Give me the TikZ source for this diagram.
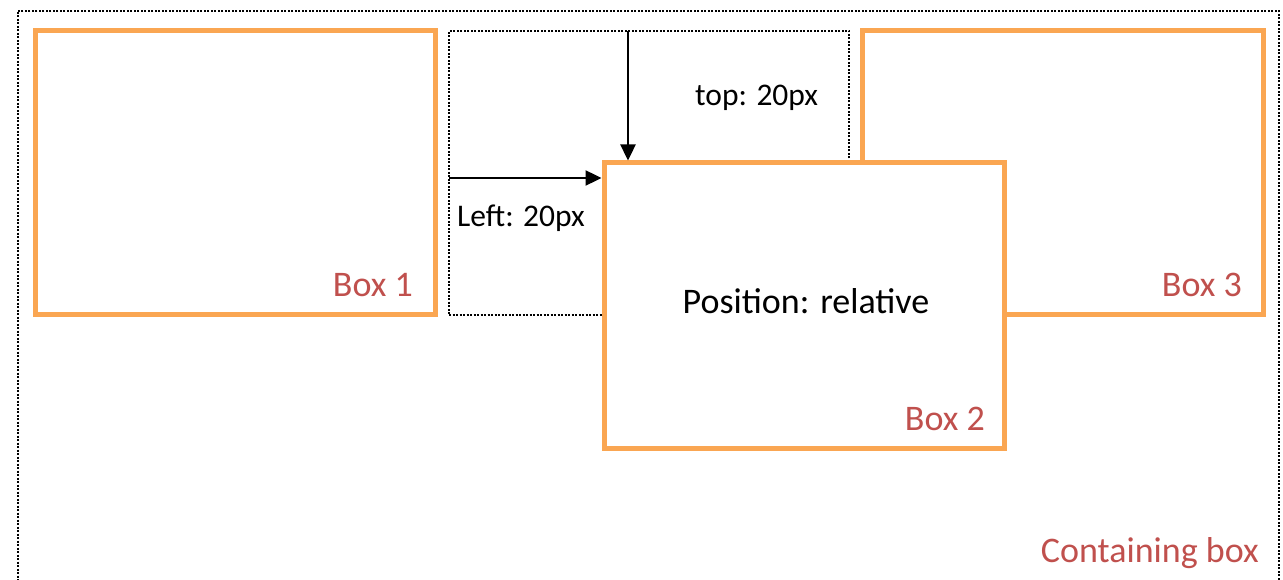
\documentclass[tikz,border=0pt]{standalone}
\usepackage{fontspec}
\setmainfont{Carlito}
\usetikzlibrary{arrows.meta}
\definecolor{boxorange}{RGB}{250,166,82}
\definecolor{labelred}{RGB}{192,80,77}
\begin{document}
\begin{tikzpicture}[x=1pt,y=-1pt,
  obox/.style={draw=boxorange,line width=5pt,fill=white,rectangle,inner sep=0pt,outer sep=0pt,
     minimum width=400pt,minimum height=283pt,anchor=north west},
  dotbox/.style={draw=black,line width=2pt,dash pattern=on 2pt off 1.5pt,rectangle,inner sep=0pt,outer sep=0pt,anchor=north west},
  lbl/.style={text=labelred,font=\fontsize{36}{40}\selectfont,inner sep=0pt,anchor=base east},
  blk/.style={text=black,inner sep=0pt},
  arr/.style={line width=2.4pt,shorten >=2.5pt,-{Triangle[length=16pt,width=15pt]}}
]
\useasboundingbox (0,0) rectangle (1283,580);
\clip (0,0) rectangle (1283,580);
\node[dotbox,minimum width=1261pt,minimum height=620pt] (container) at (17.5,11) {};
\node[dotbox,minimum width=400pt,minimum height=284pt] (ghost) at (449,31) {};
\node[obox] (box1) at (35,31) {};
\node[obox,minimum width=401pt] (box3) at (862,31) {};
\node[obox,minimum height=285pt] (box2) at (604,163) {};
\coordinate (lstart) at (449,178);
\coordinate (tstart) at (628,31);
\draw[arr] (lstart) -- (lstart -| box2.west);
\draw[arr] (tstart) -- (tstart |- box2.north);
\node[blk,font=\fontsize{31.5}{36}\selectfont,anchor=base west] (tlbl) at (695,106) {top: 20px};
\node[blk,font=\fontsize{31.5}{36}\selectfont,anchor=base west] (llbl) at (457,227) {Left: 20px};
\node[blk,font=\fontsize{36}{40}\selectfont,anchor=base] (plbl) at (806,313) {Position: relative};
\node[lbl] (b1lbl) at (413,296) {Box 1};
\node[lbl] (b3lbl) at (1242,296) {Box 3};
\node[lbl] (b2lbl) at (985,430) {Box 2};
\node[lbl] (clbl) at (1259,562) {Containing box};
\end{tikzpicture}
\end{document}
